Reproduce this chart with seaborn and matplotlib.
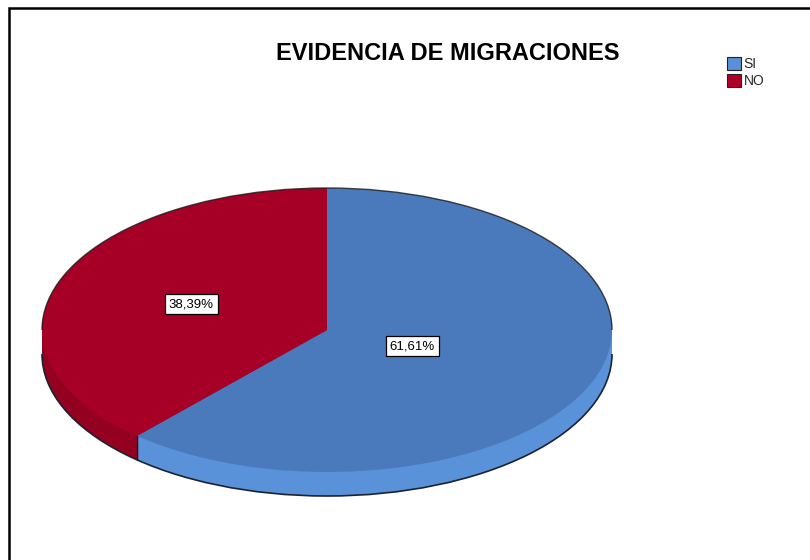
import numpy as np
import matplotlib
matplotlib.use("Agg")
import matplotlib.pyplot as plt
from matplotlib.transforms import Affine2D
from matplotlib.patches import Arc, Patch
import seaborn as sns

# ------------------------------------------------------------------
# data
# ------------------------------------------------------------------
categories = ["SI", "NO"]
percentages = [61.61, 38.39]
pct_labels = ["61,61%", "38,39%"]

# style
top_colors = ["#4a7abb", "#a60026"]
side_colors = ["#5a92da", "#94001f"]
legend_colors = ["#5b8fd8", "#b0002a"]
label_dist = [0.32, 0.51]   # radial position of the % boxes

sns.set_theme(style="white")
plt.rcParams['font.family'] = ['Liberation Sans', 'DejaVu Sans']

W, H = 810, 560
fig = plt.figure(figsize=(W / 100, H / 100), dpi=100)
ax = fig.add_axes([0, 0, 1, 1])

# pie geometry (pixels)
cx, cy = 327, 330
a, b = 285, 142
thick = 24


def ellipse_tf(dy=0):
    return Affine2D().scale(a, b).translate(cx, H - cy - dy) + ax.transData


# side of the 3D pie: stacked layers
for dy in range(thick, 0, -1):
    wedges, _ = ax.pie(percentages, colors=side_colors, startangle=90,
                       counterclock=False, radius=1, center=(0, 0),
                       wedgeprops=dict(linewidth=0))
    for w in wedges:
        w.set_transform(ellipse_tf(dy))

# bottom outline of the side
ax.add_patch(Arc((cx, H - cy - thick), 2 * a, 2 * b, theta1=180, theta2=360,
                 color="#1c2230", lw=1.2))

# cut edge between slices on the front
frac = np.cumsum(percentages) / sum(percentages)
cut = np.deg2rad(90 - 360 * frac[0])
ex, ey = cx + a * np.cos(cut), H - cy + b * np.sin(cut)
ax.plot([ex, ex], [ey, ey - thick], color="#2a1020", lw=1.0)

# top surface
wedges, _ = ax.pie(percentages, colors=top_colors, startangle=90,
                   counterclock=False, radius=1, center=(0, 0),
                   wedgeprops=dict(linewidth=0))
for w in wedges:
    w.set_transform(ellipse_tf(0))
ax.add_patch(Arc((cx, H - cy), 2 * a, 2 * b, theta1=0, theta2=180,
                 color="#1a1a1a", lw=1.0, alpha=0.8))

# percentage boxes
starts = np.concatenate([[0], frac[:-1]])
for lab, s, f, r in zip(pct_labels, starts, frac, label_dist):
    mid = np.deg2rad(90 - 360 * (s + f) / 2)
    ax.text(r * np.cos(mid), r * np.sin(mid), lab, transform=ellipse_tf(0),
            ha="center", va="center", fontsize=9.5, color="black",
            bbox=dict(boxstyle="square,pad=0.3", fc="white", ec="black", lw=0.9))

ax.set_aspect("auto")
ax.set_xlim(0, W)
ax.set_ylim(0, H)
ax.axis("off")

# outer frame (right and bottom fall outside the picture)
ax.plot([8.5, 8.5, W + 5], [-5, H - 7.5, H - 7.5], color="black", lw=1.8,
        solid_joinstyle="miter", clip_on=False)

fig.text(448 / W, 1 - 53 / H, "EVIDENCIA DE MIGRACIONES", ha="center",
         va="center", fontsize=17, fontweight="bold", color="black")

handles = [Patch(facecolor=c, edgecolor="#222222", lw=0.8) for c in legend_colors]
fig.legend(handles, categories, loc="upper left",
           bbox_to_anchor=(724 / W, 1 - 54 / H), frameon=False,
           fontsize=10, handlelength=1.05, handleheight=1.05,
           handletextpad=0.15, labelspacing=0.2, borderpad=0.2,
           borderaxespad=0)

fig.savefig("out.png", dpi=100)
